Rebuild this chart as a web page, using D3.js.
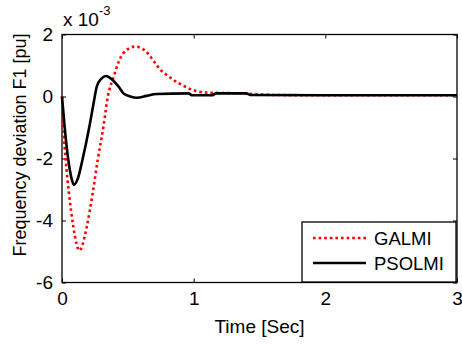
<script src="https://d3js.org/d3.v7.min.js"></script>

<style>
  body { margin: 0; background: #fff; }
  text { font-family: "Liberation Sans", Arial, sans-serif; }
</style>

<svg id="vis"></svg>

<script>
  // Data (values in units of 1e-3 pu)
  var galmiTime = [0, 0.01, 0.028, 0.053, 0.086, 0.11, 0.132, 0.155, 0.188, 0.233, 0.271, 0.315, 0.348, 0.39, 0.436, 0.49, 0.555, 0.61, 0.655, 0.7, 0.75, 0.8, 0.87, 0.93, 1.0, 1.06, 1.13, 1.25, 1.4, 1.6, 2.0, 2.5, 3.0]
  var galmiValue = [0, -0.97, -2.05, -3.12, -4.2, -4.75, -4.97, -4.8, -4.2, -3.12, -2.05, -0.97, 0, 0.6, 1.18, 1.5, 1.61, 1.54, 1.38, 1.12, 0.85, 0.68, 0.47, 0.33, 0.2, 0.14, 0.12, 0.11, 0.09, 0.05, 0.04, 0.04, 0.04]

  var psolmiTime = [0, 0.02, 0.048, 0.07, 0.091, 0.12, 0.155, 0.208, 0.24, 0.264, 0.3, 0.335, 0.38, 0.43, 0.467, 0.518, 0.57, 0.64, 0.72, 0.96, 0.99, 1.14, 1.17, 1.4, 1.43, 2.0, 2.5, 3.0]
  var psolmiValue = [0, -0.97, -2.05, -2.6, -2.85, -2.65, -2.05, -0.97, -0.22, 0.32, 0.58, 0.66, 0.55, 0.32, 0.1, 0, -0.04, 0.02, 0.08, 0.1, 0.04, 0.04, 0.1, 0.1, 0.05, 0.04, 0.04, 0.04]

  var xTicks = [0, 1, 2, 3]
  var yTicks = [-6, -4, -2, 0, 2]
  var seriesNames = ['GALMI', 'PSOLMI']

  // SVG Setup
  var svg = d3.select('#vis')
  .attr('width', 462)
  .attr('height', 345)

  // plot box edges
  var boxLeft = 62, boxRight = 457, boxTop = 34.5, boxBottom = 282.5

  var x = d3.scaleLinear().domain([0, 3]).range([boxLeft, boxRight])
  var y = d3.scaleLinear().domain([-6, 2]).range([boxBottom, boxTop])

  // ticks on all four sides, pointing inward
  svg.append('g').attr('transform', 'translate(0,' + boxBottom + ')')
  .call(d3.axisBottom(x).tickValues(xTicks).tickSizeInner(-4).tickSizeOuter(0).tickPadding(9).tickFormat(d3.format('d')))
  svg.append('g').attr('transform', 'translate(0,' + boxTop + ')')
  .call(d3.axisTop(x).tickValues(xTicks).tickSizeInner(-4).tickSizeOuter(0).tickFormat(''))
  svg.append('g').attr('transform', 'translate(' + boxLeft + ',0)')
  .call(d3.axisLeft(y).tickValues(yTicks).tickSizeInner(-4).tickSizeOuter(0).tickPadding(9).tickFormat(function(d) { return d < 0 ? '-' + Math.abs(d) : d }))
  svg.append('g').attr('transform', 'translate(' + boxRight + ',0)')
  .call(d3.axisRight(y).tickValues(yTicks).tickSizeInner(-4).tickSizeOuter(0).tickFormat(''))

  svg.selectAll('.domain').remove()
  svg.selectAll('.tick line').attr('stroke', 'black')
  svg.selectAll('.tick text').attr('font-size', 19).attr('fill', 'black')

  svg.append('rect')
  .attr('x', boxLeft).attr('y', boxTop)
  .attr('width', boxRight - boxLeft).attr('height', boxBottom - boxTop)
  .attr('fill', 'none').attr('stroke', 'black').attr('stroke-width', 1.3)

  // Lines
  var line = d3.line()
  .x(function(d) { return x(d[0]) })
  .y(function(d) { return y(d[1]) })
  .curve(d3.curveMonotoneX)

  svg.append('path')
  .attr('d', line(d3.zip(galmiTime, galmiValue)))
  .attr('fill', 'none').attr('stroke', 'red').attr('stroke-width', 2.6)
  .attr('stroke-dasharray', '2.6,3')

  svg.append('path')
  .attr('d', line(d3.zip(psolmiTime, psolmiValue)))
  .attr('fill', 'none').attr('stroke', 'black').attr('stroke-width', 2.6)

  // Exponent label
  var expo = svg.append('text').attr('x', 63).attr('y', 26).attr('font-size', 19)
  expo.append('tspan').text('x 10')
  expo.append('tspan').attr('dy', -11).attr('font-size', 13).text('-3')

  // Axis labels
  svg.append('text')
  .attr('x', (boxLeft + boxRight) / 2).attr('y', 333)
  .attr('text-anchor', 'middle').attr('font-size', 19)
  .text('Time [Sec]')

  svg.append('text')
  .attr('transform', 'translate(26,145) rotate(-90)')
  .attr('text-anchor', 'middle').attr('font-size', 18)
  .text('Frequency deviation F1 [pu]')

  // Legend
  var legend = svg.append('g')
  legend.append('rect')
  .attr('x', 302).attr('y', 222).attr('width', 154).attr('height', 60)
  .attr('fill', 'white').attr('stroke', 'black').attr('stroke-width', 1.3)

  legend.append('line')
  .attr('x1', 313).attr('x2', 366).attr('y1', 238).attr('y2', 238)
  .attr('stroke', 'red').attr('stroke-width', 2.6).attr('stroke-dasharray', '2.6,3')
  legend.append('line')
  .attr('x1', 313).attr('x2', 366).attr('y1', 263).attr('y2', 263)
  .attr('stroke', 'black').attr('stroke-width', 2.6)

  legend.selectAll('text.leg')
  .data(seriesNames)
  .enter().append('text')
  .attr('class', 'leg')
  .attr('x', 374)
  .attr('y', function(d, i) { return 244.5 + i * 25 })
  .attr('font-size', 18.5)
  .text(function(d) { return d })
</script>
